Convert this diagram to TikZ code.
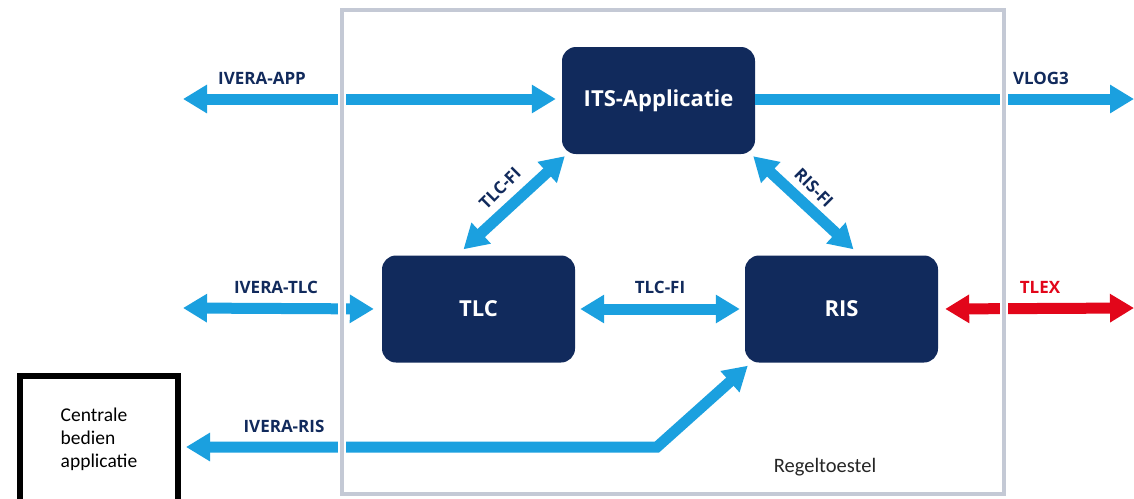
\documentclass[tikz,border=0pt]{standalone}
\usepackage{fontspec}
\setmainfont{Carlito}
\newfontfamily\labelfont{Open Sans}
\usetikzlibrary{arrows.meta, positioning}
\definecolor{navy}{HTML}{112A5C}
\definecolor{flow}{HTML}{1BA0DF}
\definecolor{flowred}{HTML}{E2061A}
\definecolor{framegray}{HTML}{C4C9D5}

\begin{document}
\begin{tikzpicture}[x=1pt,y=-1pt,
    unit/.style={fill=navy, rounded corners=14pt, text=white,
      font=\labelfont\bfseries\fontsize{22}{26}\selectfont,
      minimum width=193pt, minimum height=107pt},
    link/.style={draw=flow, line width=11pt, line join=miter,
      {Triangle[width=27pt,length=24pt]}-{Triangle[width=27pt,length=24pt]}},
    oneway/.style={draw=flow, line width=11pt, line join=miter,
      -{Triangle[width=27pt,length=24pt]}},
    tag/.style={text=navy, font=\labelfont\bfseries\fontsize{17}{20}\selectfont, inner sep=0pt}
  ]
  \useasboundingbox[fill=white] (0,0) rectangle (1134,498);

  % units
  \node[unit] (its) at (658.5,100.5) {ITS-Applicatie};
  \node[unit] (tlc) at (478.5,309) {TLC};
  \node[unit] (ris) at (841.5,309) {RIS};
  \node[draw=black, line width=6pt, minimum width=158pt, minimum height=126pt,
        align=left, font=\fontsize{19.5}{23}\selectfont] (cba) at (99,439)
        {Centrale\\bedien\\applicatie};

  % free ends
  \coordinate (append) at (183,99);
  \coordinate (vlogend) at (1134,99);
  \coordinate (tlcend) at (183,308);
  \coordinate (tlexend) at (1134,308);
  \coordinate (bend) at (657,447);

  % connectors
  \draw[link, shorten >=6pt] (append) -- (its.west |- append);
  \draw[oneway] (its.east |- vlogend) -- (vlogend);
  \draw[link] ([shift={(-15,-6)}]tlc.north) -- ([shift={(3,2)}]its.south west);
  \draw[link] ([shift={(-2,2)}]its.south east) -- ([shift={(12,-6)}]ris.north);
  \draw[link, shorten >=8pt] (tlcend) -- (tlc.west);
  \draw[link, shorten <=5pt, shorten >=5pt] (tlc.east) -- (ris.west);
  \draw[link, draw=flowred, shorten <=7pt] (ris.east) -- (tlexend);
  \draw[link, shorten <=5pt] (bend -| cba.east) -- (bend) -- ([shift={(3,3)}]ris.south west);

  % labels
  \node[tag] (lapp) at (262,78) {IVERA-APP};
  \node[tag] (lvlog) at (1041,78) {VLOG3};
  \node[tag, rotate=45] (ltlcfi) at (500,188) {TLC-FI};
  \node[tag, rotate=-45] (lrisfi) at (814,188) {RIS-FI};
  \node[tag] (livtlc) at (276,287) {IVERA-TLC};
  \node[tag] (ltlcfih) at (660,287) {TLC-FI};
  \node[tag, text=flowred] (ltlex) at (1040,287) {TLEX};
  \node[tag] (livris) at (284,426) {IVERA-RIS};

  % frame on top
  \draw[white, line width=8pt] (342,10) rectangle (1004,494);
  \draw[framegray, line width=4pt] (342,10) rectangle (1004,494);
  \node[font=\fontsize{20.5}{24}\selectfont, text=black!85] (regel) at (825,467) {Regeltoestel};
\end{tikzpicture}
\end{document}
